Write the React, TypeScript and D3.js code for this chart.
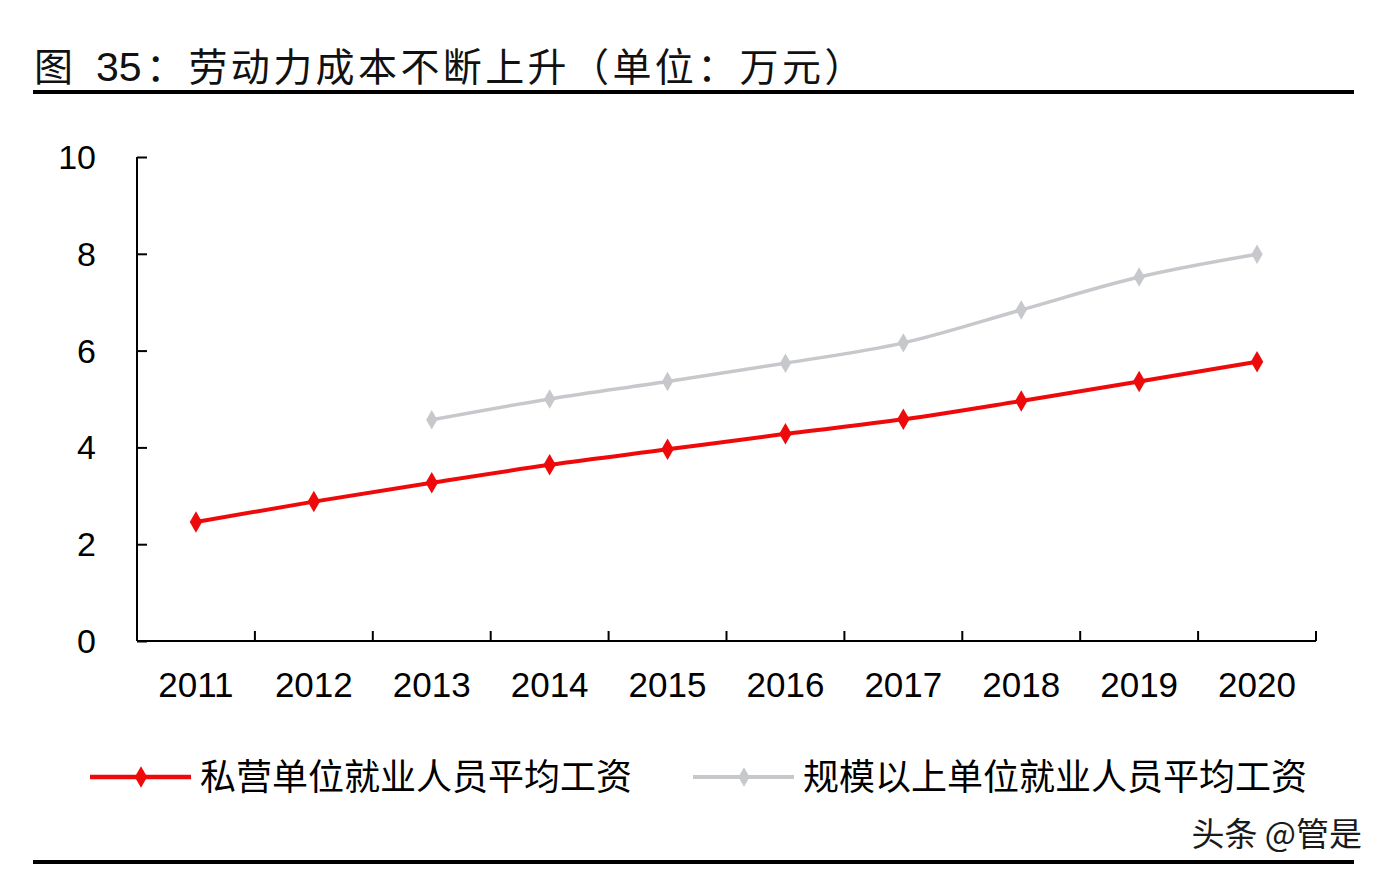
import React, { useRef, useEffect } from 'react';
import * as d3 from 'd3';

const years = ['2011', '2012', '2013', '2014', '2015', '2016', '2017', '2018', '2019', '2020'];
// 私营单位就业人员平均工资 (万元)
const privateWage = [2.46, 2.88, 3.27, 3.64, 3.96, 4.28, 4.58, 4.96, 5.36, 5.77];
// 规模以上单位就业人员平均工资 (万元), starts 2013
const scaleWage = [null, null, 4.57, 5.0, 5.36, 5.74, 6.16, 6.84, 7.52, 7.99];
const yTicks = [0, 2, 4, 6, 8, 10];

const seriesNames = ['私营单位就业人员平均工资', '规模以上单位就业人员平均工资'];
const seriesColors = ['#ee0a0a', '#c6c8cb'];

const W = 1388;
const H = 876;
const numFont = '"Liberation Sans", Arial, sans-serif';
const cjkFont = '"Noto Sans CJK SC", "Liberation Sans", sans-serif';

const App = () => {
  const ref = useRef(null);

  useEffect(() => {
    if (!ref.current) return;
    const svg = d3.select(ref.current);
    svg.selectAll('*').remove();

    svg.append('rect').attr('width', W).attr('height', H).attr('fill', '#ffffff');

    // Title and rules
    const title = svg.append('text')
      .attr('y', 81)
      .attr('font-family', cjkFont)
      .attr('font-size', 39)
      .attr('fill', '#111');
    title.append('tspan').attr('x', 34).text('图');
    title.append('tspan').attr('x', 96).attr('font-family', numFont).attr('font-size', 41).text('35');
    title.append('tspan').attr('x', 146).attr('letter-spacing', 3.4).text('：劳动力成本不断上升（单位：万元）');

    svg.append('line').attr('x1', 33).attr('x2', 1354).attr('y1', 92).attr('y2', 92)
      .attr('stroke', '#000').attr('stroke-width', 4);
    svg.append('line').attr('x1', 33).attr('x2', 1354).attr('y1', 862).attr('y2', 862)
      .attr('stroke', '#000').attr('stroke-width', 4);

    const left = 137, right = 1316, top = 157, bottom = 641;

    const x = d3.scaleBand().domain(years).range([left, right]);
    const y = d3.scaleLinear().domain([0, 10]).range([bottom, top]);

    // Y axis (ticks pointing inward)
    const yAxis = svg.append('g')
      .attr('transform', `translate(${left},0)`)
      .call(d3.axisRight(y).tickValues(yTicks).tickSize(10).tickFormat(() => ''));
    yAxis.select('.domain').attr('stroke', '#000').attr('stroke-width', 2).attr('d', `M0,${top}V${bottom}`);
    yAxis.selectAll('.tick line').attr('stroke', '#000').attr('stroke-width', 2);

    svg.append('g').selectAll('text').data(yTicks).enter().append('text')
      .attr('x', 96).attr('y', d => y(d) + 12)
      .attr('text-anchor', 'end')
      .attr('font-family', numFont)
      .attr('font-size', 34)
      .attr('fill', '#000')
      .text(d => d);

    // X axis: line + ticks at category boundaries, pointing up
    svg.append('line').attr('x1', left).attr('x2', right).attr('y1', bottom).attr('y2', bottom)
      .attr('stroke', '#000').attr('stroke-width', 2);
    const bounds = years.map(d => x(d)).concat([right]).slice(1);
    svg.append('g').selectAll('line').data(bounds).enter().append('line')
      .attr('x1', d => d).attr('x2', d => d)
      .attr('y1', bottom).attr('y2', bottom - 10)
      .attr('stroke', '#000').attr('stroke-width', 2);

    svg.append('g').selectAll('text').data(years).enter().append('text')
      .attr('x', d => x(d) + x.bandwidth() / 2)
      .attr('y', 697)
      .attr('text-anchor', 'middle')
      .attr('font-family', numFont)
      .attr('font-size', 35)
      .attr('fill', '#000')
      .text(d => d);

    const cx = d => x(d) + x.bandwidth() / 2;
    const diamond = d3.symbol().type(d3.symbolDiamond);

    const drawSeries = (vals, color, width, msize) => {
      const pts = years.map((yr, i) => ({ yr, v: vals[i] })).filter(p => p.v != null);
      const line = d3.line()
        .x(p => cx(p.yr))
        .y(p => y(p.v))
        .curve(d3.curveMonotoneX);
      svg.append('path')
        .datum(pts)
        .attr('d', line)
        .attr('fill', 'none')
        .attr('stroke', color)
        .attr('stroke-width', width)
        .attr('stroke-linejoin', 'round');
      svg.append('g').selectAll('path').data(pts).enter().append('path')
        .attr('d', diamond.size(msize)())
        .attr('transform', p => `translate(${cx(p.yr)},${y(p.v)}) scale(1.1,1.1)`)
        .attr('fill', color);
    };

    drawSeries(scaleWage, seriesColors[1], 3.5, 90);
    drawSeries(privateWage, seriesColors[0], 4, 110);

    // Legend
    const legend = [
      { x0: 90, tx: 200, name: seriesNames[0], color: seriesColors[0], w: 4.5, ms: 110 },
      { x0: 693, tx: 803, name: seriesNames[1], color: seriesColors[1], w: 4, ms: 90 },
    ];
    legend.forEach(l => {
      svg.append('line').attr('x1', l.x0).attr('x2', l.x0 + 101).attr('y1', 777).attr('y2', 777)
        .attr('stroke', l.color).attr('stroke-width', l.w);
      svg.append('path').attr('d', diamond.size(l.ms)())
        .attr('transform', `translate(${l.x0 + 51},777) scale(1.1,1.1)`)
        .attr('fill', l.color);
      svg.append('text')
        .attr('x', l.tx).attr('y', 790)
        .attr('font-family', cjkFont)
        .attr('font-size', 36)
        .attr('fill', '#000')
        .text(l.name);
    });

    // Watermark
    svg.append('text')
      .attr('x', 1362).attr('y', 846)
      .attr('text-anchor', 'end')
      .attr('font-family', cjkFont)
      .attr('font-size', 33)
      .attr('fill', '#1a1a1a')
      .attr('stroke', '#fff')
      .attr('stroke-width', 1)
      .attr('paint-order', 'stroke')
      .text('头条 @管是');
  }, []);

  return (
    <svg
      ref={ref}
      width={W}
      height={H}
      style={{ position: 'absolute', left: 0, top: 0 }}
    />
  );
};

export default App;
